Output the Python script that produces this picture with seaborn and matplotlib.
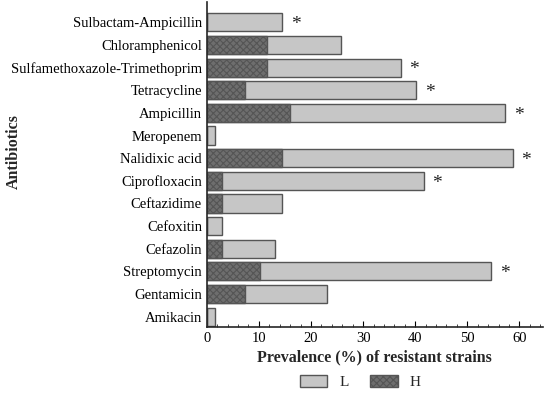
import matplotlib
matplotlib.use("Agg")
import matplotlib.pyplot as plt
from matplotlib.patches import Patch
from matplotlib.ticker import MultipleLocator
import seaborn as sns

# Data (% resistant strains)
antibiotics = ["Sulbactam-Ampicillin", "Chloramphenicol", "Sulfamethoxazole-Trimethoprim",
               "Tetracycline", "Ampicillin", "Meropenem", "Nalidixic acid", "Ciprofloxacin",
               "Ceftazidime", "Cefoxitin", "Cefazolin", "Streptomycin", "Gentamicin", "Amikacin"]
total_res = [14.5, 25.8, 37.3, 40.2, 57.3, 1.5, 58.8, 41.6, 14.5, 2.9, 13.0, 54.6, 23.0, 1.5]
high_res = [0, 11.6, 11.6, 7.4, 15.9, 0, 14.5, 2.9, 2.9, 0, 2.9, 10.2, 7.4, 0]
significant = [True, False, True, True, True, False, True, True, False, False, False, True, False, False]

sns.set_style("ticks")
plt.rcParams["font.family"] = ["Liberation Serif", "DejaVu Serif"]
plt.rcParams["hatch.color"] = "#2a2a2a"
plt.rcParams["hatch.linewidth"] = 0.8

light = "#c6c6c6"
dark = "#6e6e6e"
edge = "#555555"

fig = plt.figure(figsize=(5.5, 3.95), dpi=100)
ax = fig.add_axes([0.376, 0.172, 0.611, 0.823])

# L = whole bar (light), H portion drawn on top (hatched)
sns.barplot(x=total_res, y=antibiotics, orient="h", color=light, edgecolor=edge,
            linewidth=1.0, width=0.8, saturation=1, ax=ax)
sns.barplot(x=high_res, y=antibiotics, orient="h", color=dark, edgecolor=edge,
            linewidth=1.0, width=0.8, saturation=1, hatch="xxxxx", ax=ax)

for i, (v, s) in enumerate(zip(total_res, significant)):
    if s:
        ax.text(v + 1.6, i + 0.1, "*", va="center", ha="left", fontsize=14, color="#222222")

ax.set_xlim(0, 64.5)
ax.set_ylim(13.46, -0.9)
ax.xaxis.set_major_locator(MultipleLocator(10))
ax.xaxis.set_minor_locator(MultipleLocator(2))
ax.tick_params(axis="both", direction="in", labelsize=10.5, colors="black")
ax.tick_params(axis="x", which="minor", direction="in", length=2.5)
ax.tick_params(axis="x", which="major", length=4)
ax.tick_params(axis="y", length=3)
sns.despine(ax=ax)
for sp in ax.spines.values():
    sp.set_linewidth(1.2)

ax.set_xlabel("Prevalence (%) of resistant strains", fontsize=11.5, fontweight="bold", labelpad=3)
ax.set_ylabel("Antibiotics", fontsize=11.5, fontweight="bold")
ax.yaxis.set_label_coords(-0.55, 0.54)

handles = [Patch(facecolor=light, edgecolor=edge, label="L"),
           Patch(facecolor=dark, edgecolor=edge, hatch="xxxxx", label="H")]
fig.legend(handles=handles, loc="center", bbox_to_anchor=(0.655, 0.033), ncol=2,
           frameon=False, fontsize=11, handlelength=1.8, handleheight=0.9, columnspacing=1.4)

fig.savefig("out.png", dpi=100)
